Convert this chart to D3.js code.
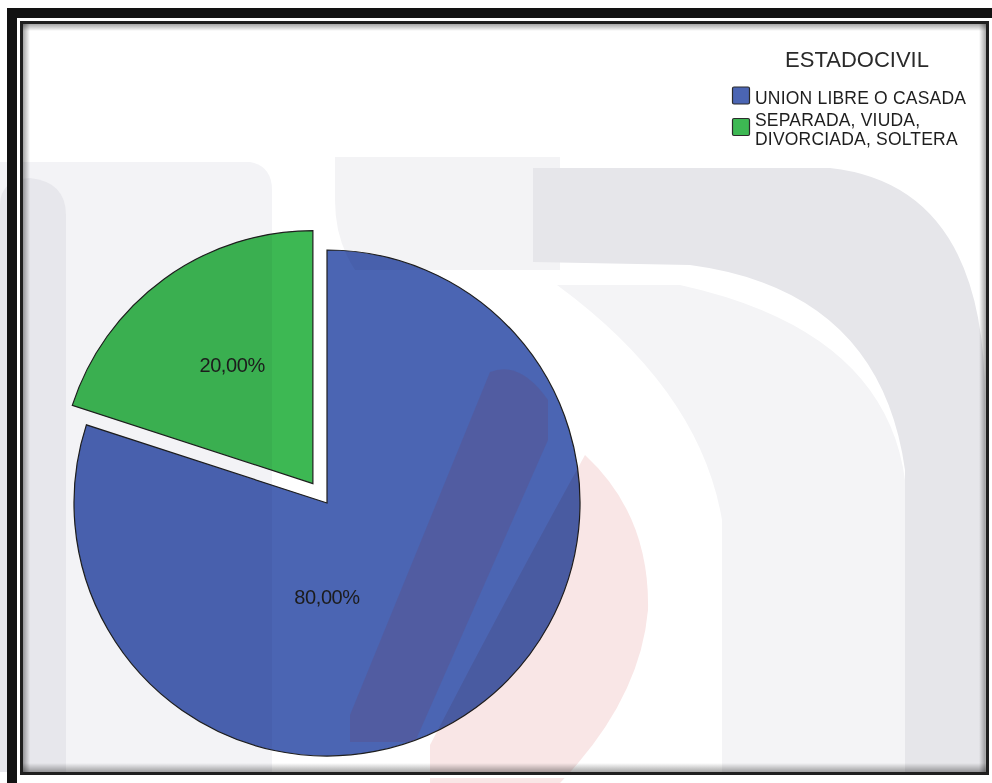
<!DOCTYPE html>
<html>
<head>
<meta charset="utf-8">
<script src="https://cdn.jsdelivr.net/npm/d3@7"></script>
<style>
  html, body { margin: 0; padding: 0; background: #ffffff; }
  svg { display: block; }
  text { font-family: "Liberation Sans", Arial, sans-serif; }
</style>
</head>
<body>
<svg id="chart" width="992" height="783"></svg>
<script>
// ---- data ----
const categories = ["UNION LIBRE O CASADA", "SEPARADA, VIUDA, DIVORCIADA, SOLTERA"];
const percentages = [80, 20];
const legendTitle = "ESTADOCIVIL";
const legendLines = [["UNION LIBRE O CASADA"], ["SEPARADA, VIUDA,", "DIVORCIADA, SOLTERA"]];
const sliceColors = ["#4b65b3", "#3db853"];
const explodeOffsets = [0, 24];

const W = 992, H = 783;
const svg = d3.select("#chart");
const defs = svg.append("defs");

// ---- frame interior ----
const inner = { x0: 23, y0: 24, x1: 986, y1: 772 };
svg.append("rect").attr("x", 0).attr("y", 0).attr("width", W).attr("height", H).attr("fill", "#ffffff");

// faint background emblem, multiplied over the chart area
const wm = svg.append("g").attr("class", "emblem").style("mix-blend-mode", "multiply");
wm.append("path")
  .attr("d", "M0,162 L250,162 Q272,166 272,190 L272,772 L0,772 Z")
  .attr("fill", "#f3f3f6");
wm.append("path")
  .attr("d", "M0,205 Q0,180 30,178 Q66,182 66,215 L66,772 L0,772 Z")
  .attr("fill", "#e7e7ec");
wm.append("path")
  .attr("d", "M335,157 L560,157 L560,270 L355,270 Q335,240 335,200 Z")
  .attr("fill", "#f3f3f5");
wm.append("path")
  .attr("d", "M533,168 L830,168 Q985,185 985,400 L985,772 L905,772 L905,470 Q880,290 690,265 L533,262 Z")
  .attr("fill", "#e6e6ea");
wm.append("path")
  .attr("d", "M557,285 L680,285 Q885,330 905,480 L905,772 L722,772 L722,520 Q700,390 557,285 Z")
  .attr("fill", "#f4f4f6");
wm.append("path")
  .attr("d", "M585,455 Q650,515 648,610 Q640,700 560,783 L430,783 L430,745 Q505,600 585,455 Z")
  .attr("fill", "#f9e6e6");

// ---- pie ----
const cx = 327, cy = 503, R = 253;
const pie = d3.pie().sort(null).value(d => d.value).startAngle(0).endAngle(2 * Math.PI);
const data = categories.map((c, i) => ({ name: c, value: percentages[i], color: sliceColors[i], offset: explodeOffsets[i] }));
const arcs = pie(data);
const arc = d3.arc().innerRadius(0).outerRadius(R);
const fmt = v => d3.format(".2f")(v).replace(".", ",") + "%";

function shift(d) {
  const a = (d.startAngle + d.endAngle) / 2;
  return [Math.sin(a) * d.data.offset, -Math.cos(a) * d.data.offset];
}

const pieG = svg.append("g").attr("transform", `translate(${cx},${cy})`);

// slices are drawn under the emblem overlay so it tints them as well
const slices = pieG.selectAll("g.slice").data(arcs).join("g")
  .attr("class", "slice")
  .attr("transform", d => `translate(${shift(d)})`);
slices.append("path")
  .attr("d", arc)
  .attr("fill", d => d.data.color)
  .attr("stroke", "#1e1e1e")
  .attr("stroke-width", 1.2)
  .attr("stroke-linejoin", "miter");

// move the emblem above the slices
svg.node().appendChild(wm.node());

// diagonal emblem stroke visible only across the large slice
defs.append("clipPath").attr("id", "bigSlice")
  .append("path")
  .attr("transform", `translate(${cx},${cy}) translate(${shift(arcs[0])})`)
  .attr("d", arc(arcs[0]));
svg.append("path")
  .attr("clip-path", "url(#bigSlice)")
  .attr("d", "M490,372 Q520,360 548,400 L548,440 L415,742 L350,742 L350,715 Z")
  .attr("fill", "#694063")
  .attr("opacity", 0.22);

// percentage labels
const labelG = svg.append("g").attr("transform", `translate(${cx},${cy})`);
labelG.selectAll("text").data(arcs).join("text")
  .attr("transform", d => {
    const [sx, sy] = shift(d);
    const a = (d.startAngle + d.endAngle) / 2;
    // the majority slice is labelled beneath the centre, smaller ones along their bisector
    if (d.data.value > 50) return `translate(${sx},${sy + R * 0.37})`;
    const r = R * 0.57;
    return `translate(${sx + Math.sin(a) * r + 4},${sy - Math.cos(a) * r - 2})`;
  })
  .attr("text-anchor", "middle")
  .attr("dy", "0.36em")
  .attr("font-size", 20)
  .attr("letter-spacing", "-0.4")
  .attr("fill", "#1c1c1c")
  .text(d => fmt(d.data.value));

// ---- legend ----
const legend = svg.append("g");
legend.append("text")
  .attr("x", 857).attr("y", 67)
  .attr("text-anchor", "middle")
  .attr("font-size", 22)
  .attr("fill", "#2a2a2a")
  .text(legendTitle);

const lineStep = 19;
let baseline = 104;
legendLines.forEach((lines, i) => {
  const first = baseline;
  const last = baseline + (lines.length - 1) * lineStep;
  const mid = (first - 13 + last) / 2;
  legend.append("rect")
    .attr("x", 732.5).attr("y", mid - 10.5)
    .attr("width", 17).attr("height", 17)
    .attr("rx", 1.5)
    .attr("fill", sliceColors[i])
    .attr("stroke", "#2b2b2b")
    .attr("stroke-width", 1.2);
  const t = legend.append("text")
    .attr("x", 755).attr("y", baseline)
    .attr("font-size", 17.5)
    .attr("letter-spacing", "0.2")
    .attr("fill", "#1e1e1e");
  lines.forEach((ln, j) => {
    t.append("tspan")
      .attr("x", 755)
      .attr("dy", j === 0 ? 0 : lineStep)
      .text(ln);
  });
  baseline = last + 22;
});

// ---- frame ----
// inner shadow along the edges of the plotting panel
const shadowSides = [
  { id: "shT", x1: 0, y1: 0, x2: 0, y2: 1, x: inner.x0, y: inner.y0, w: inner.x1 - inner.x0, h: 7 },
  { id: "shL", x1: 0, y1: 0, x2: 1, y2: 0, x: inner.x0, y: inner.y0, w: 7, h: inner.y1 - inner.y0 },
  { id: "shB", x1: 0, y1: 1, x2: 0, y2: 0, x: inner.x0, y: inner.y1 - 9, w: inner.x1 - inner.x0, h: 9 },
  { id: "shR", x1: 1, y1: 0, x2: 0, y2: 0, x: inner.x1 - 7, y: inner.y0, w: 7, h: inner.y1 - inner.y0 }
];
shadowSides.forEach(s => {
  const g = defs.append("linearGradient").attr("id", s.id)
    .attr("x1", s.x1).attr("y1", s.y1).attr("x2", s.x2).attr("y2", s.y2);
  g.append("stop").attr("offset", 0).attr("stop-color", "#000").attr("stop-opacity", 0.35);
  g.append("stop").attr("offset", 1).attr("stop-color", "#000").attr("stop-opacity", 0);
  svg.append("rect").attr("x", s.x).attr("y", s.y).attr("width", s.w).attr("height", s.h)
    .attr("fill", `url(#${s.id})`);
});

// white gap between the frame lines
svg.append("rect")
  .attr("x", 18.5).attr("y", 19.5).attr("width", 971).attr("height", 757)
  .attr("fill", "none").attr("stroke", "#ffffff").attr("stroke-width", 3);
// thin inner frame line
svg.append("rect")
  .attr("x", 21.5).attr("y", 22.5).attr("width", 966).attr("height", 751)
  .attr("fill", "none").attr("stroke", "#1f1f1f").attr("stroke-width", 3);
// heavy outer frame band
svg.append("rect")
  .attr("x", 12).attr("y", 13).attr("width", 985).attr("height", 775)
  .attr("fill", "none").attr("stroke", "#121212").attr("stroke-width", 10);
</script>
</body>
</html>
